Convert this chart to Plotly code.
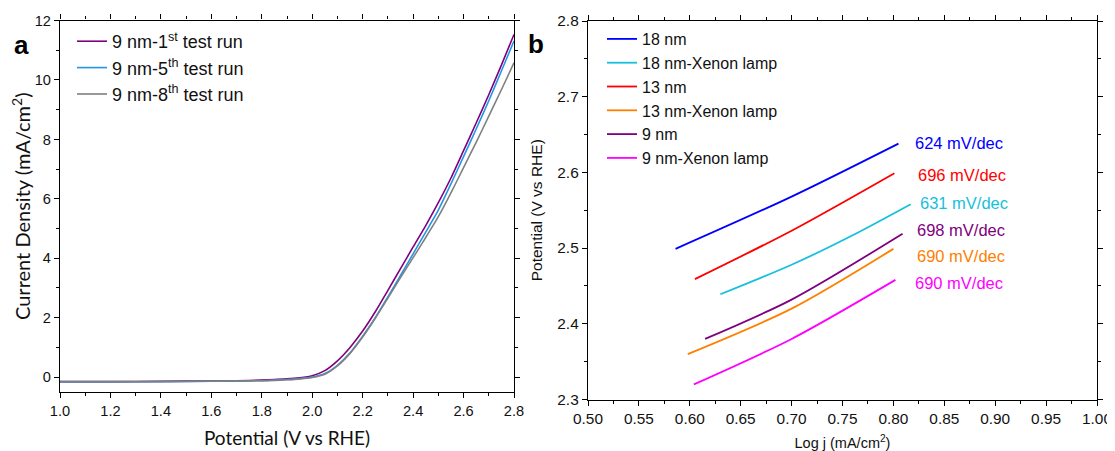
import plotly.graph_objects as go

# The page body adds an 8 px margin, so the figure is placed at (8, 8)
OFF = 8
W, H = 1115 - OFF, 451 - OFF


def px(x):
    return (x - OFF) / W


def py(y):
    return 1 - (y - OFF) / H


# ---------------- Panel a data ----------------
potential_a = [1.0, 1.2, 1.4, 1.6, 1.7, 1.8, 1.85, 1.9, 1.95, 2.0, 2.05, 2.1, 2.15, 2.2, 2.25,
               2.3, 2.35, 2.4, 2.45, 2.5, 2.55, 2.6, 2.65, 2.7, 2.75, 2.8]
run_1st = [-0.15, -0.15, -0.14, -0.13, -0.12, -0.10, -0.08, -0.06, -0.02, 0.05, 0.22, 0.55, 1.0, 1.55, 2.2,
           2.92, 3.65, 4.38, 5.1, 5.87, 6.7, 7.62, 8.55, 9.5, 10.5, 11.53]
run_5th = [-0.16, -0.16, -0.15, -0.14, -0.13, -0.12, -0.10, -0.08, -0.05, 0.0, 0.12, 0.4, 0.82, 1.38, 2.0,
           2.7, 3.42, 4.15, 4.88, 5.62, 6.5, 7.42, 8.35, 9.3, 10.3, 11.31]
run_8th = [-0.15, -0.15, -0.15, -0.14, -0.13, -0.12, -0.11, -0.09, -0.06, -0.01, 0.1, 0.38, 0.8, 1.35, 1.98,
           2.66, 3.35, 4.02, 4.7, 5.4, 6.2, 7.05, 7.9, 8.78, 9.67, 10.58]
names_a = ["9 nm-1<sup>st</sup> test run", "9 nm-5<sup>th</sup> test run", "9 nm-8<sup>th</sup> test run"]
colors_a = ["#800080", "#2196e8", "#808080"]

# ---------------- Panel b data ----------------
logj_18 = [0.586, 0.70, 0.805]
pot_18 = [2.499, 2.568, 2.638]
logj_18x = [0.630, 0.70, 0.76, 0.817]
pot_18x = [2.439, 2.478, 2.517, 2.558]
logj_13 = [0.605, 0.70, 0.801]
pot_13 = [2.459, 2.523, 2.599]
logj_13x = [0.598, 0.70, 0.800]
pot_13x = [2.360, 2.420, 2.499]
logj_9 = [0.615, 0.70, 0.809]
pot_9 = [2.380, 2.432, 2.519]
logj_9x = [0.604, 0.70, 0.802]
pot_9x = [2.320, 2.380, 2.458]

names_b = ["18 nm", "18 nm-Xenon lamp", "13 nm", "13 nm-Xenon lamp", "9 nm", "9 nm-Xenon lamp"]
colors_b = ["#0000ff", "#17c0dc", "#ff0000", "#ff8000", "#800080", "#ff00ff"]
series_b = [(logj_18, pot_18), (logj_18x, pot_18x), (logj_13, pot_13),
            (logj_13x, pot_13x), (logj_9, pot_9), (logj_9x, pot_9x)]

slope_labels = ["624 mV/dec", "696 mV/dec", "631 mV/dec", "698 mV/dec", "690 mV/dec", "690 mV/dec"]
slope_colors = ["#0000ff", "#ff0000", "#17c0dc", "#800080", "#ff8000", "#ff00ff"]
slope_x = [0.819, 0.822, 0.824, 0.821, 0.821, 0.819]
slope_y = [2.639, 2.597, 2.560, 2.524, 2.490, 2.454]

fig = go.Figure()

for i, (yv, nm, col) in enumerate(zip([run_1st, run_5th, run_8th], names_a, colors_a)):
    fig.add_trace(go.Scatter(x=potential_a, y=yv, mode="lines", name=nm,
                             line=dict(color=col, width=1.6, shape="spline", smoothing=0.6),
                             xaxis="x", yaxis="y", legend="legend", legendgroup="a%d" % i))

for i, ((xv, yv), nm, col) in enumerate(zip(series_b, names_b, colors_b)):
    fig.add_trace(go.Scatter(x=xv, y=yv, mode="lines", name=nm,
                             line=dict(color=col, width=1.8, shape="spline", smoothing=0.8),
                             xaxis="x2", yaxis="y2", legend="legend2", legendgroup="b%d" % i))

ARIAL = "Liberation Sans, Arial, sans-serif"
CAL = "Lato, Carlito, Calibri, sans-serif"
TICKFONT_A = dict(family=ARIAL, size=14.6, color="#111")
TICKFONT_B = dict(family=ARIAL, size=15.4, color="#111")


def ax(**kw):
    base = dict(showgrid=False, zeroline=False, showline=True, linecolor="black", linewidth=1.4,
                mirror="ticks", ticks="outside", ticklen=5, tickwidth=1.3, tickcolor="black",
                automargin=False)
    base.update(kw)
    return base


def minor(d):
    return dict(dtick=d, ticklen=3, ticks="outside", tickcolor="black", tickwidth=1.2)


fig.update_layout(
    width=W, height=H, margin=dict(l=0, r=0, t=0, b=0),
    paper_bgcolor="white", plot_bgcolor="white", showlegend=True,
    xaxis=ax(domain=[px(60), px(514)], range=[1.0, 2.8], tick0=1.0, dtick=0.2, tickformat=".1f",
             tickfont=TICKFONT_A, minor=minor(0.1),
             title=dict(text="Potential (V vs RHE)", font=dict(family=CAL, size=19, color="#111"), standoff=13),
             anchor="y"),
    yaxis=ax(domain=[py(392), py(20.5)], range=[-0.5, 12], tick0=0, dtick=2,
             tickfont=TICKFONT_A, minor=minor(1),
             title=dict(text="Current Density (mA/cm<sup>2</sup>)", font=dict(family=CAL, size=20, color="#111"),
                        standoff=2),
             anchor="x"),
    xaxis2=ax(domain=[px(588), px(1097)], range=[0.5, 1.0], tick0=0.5, dtick=0.05, tickformat=".2f",
              tickfont=TICKFONT_B, minor=minor(0.025),
              title=dict(text="Log j (mA/cm<sup>2</sup>)", font=dict(family=ARIAL, size=14.5, color="#111"),
                         standoff=11),
              anchor="y2"),
    yaxis2=ax(domain=[py(399.5), py(21)], range=[2.3, 2.8], tick0=2.3, dtick=0.1, tickformat=".1f",
              tickfont=TICKFONT_B, minor=minor(0.05),
              title=dict(text="Potential (V vs RHE)", font=dict(family=ARIAL, size=15.5, color="#111"), standoff=10),
              anchor="x2"),
    legend=dict(x=px(72), y=py(23), xanchor="left", yanchor="top", bgcolor="rgba(0,0,0,0)",
                font=dict(family=ARIAL, size=18, color="#111"), tracegroupgap=0, traceorder="normal"),
    legend2=dict(x=px(602), y=py(22), xanchor="left", yanchor="top", bgcolor="rgba(0,0,0,0)",
                 font=dict(family=ARIAL, size=16, color="#111"), tracegroupgap=0, traceorder="normal"),
)

for t, c, xv, yv in zip(slope_labels, slope_colors, slope_x, slope_y):
    fig.add_annotation(x=xv, y=yv, xref="x2", yref="y2", text=t, showarrow=False,
                       xanchor="left", yanchor="middle", font=dict(family=ARIAL, size=16.5, color=c))

fig.add_annotation(x=px(21), y=py(45), xref="paper", yref="paper", text="<b>a</b>", showarrow=False,
                   xanchor="center", yanchor="middle", font=dict(family=ARIAL, size=26, color="black"))
fig.add_annotation(x=px(536), y=py(44), xref="paper", yref="paper", text="<b>b</b>", showarrow=False,
                   xanchor="center", yanchor="middle", font=dict(family=ARIAL, size=26, color="black"))

fig.write_html("out.html")
